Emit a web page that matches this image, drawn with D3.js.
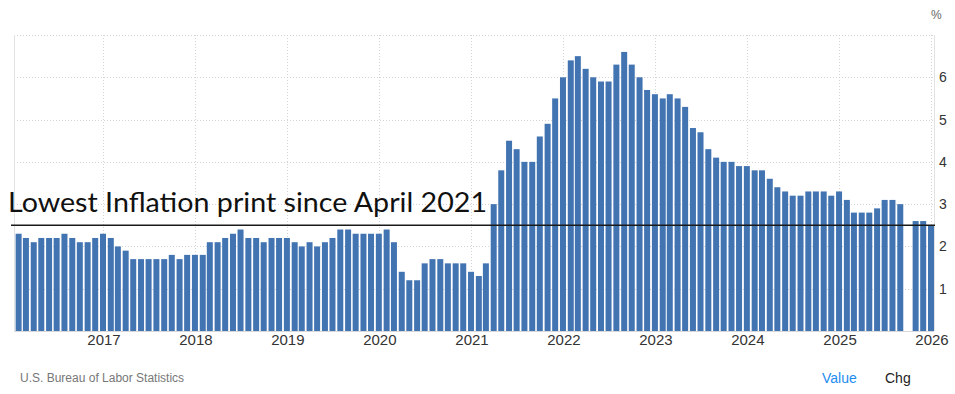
<!DOCTYPE html>
<html>
<head>
<meta charset="utf-8">
<script src="https://cdn.jsdelivr.net/npm/d3@7"></script>
<style>
  body { margin: 0; background: #fff; }
  svg { display: block; }
</style>
</head>
<body>
<script>
// US core CPI, YoY %, monthly from Feb 2016 (Oct 2025 not published)
const startMonth = '2016-02';
const values = [
  2.3, 2.2, 2.1, 2.2, 2.2, 2.2, 2.3, 2.2, 2.1, 2.1, 2.2,           // 2016 Feb-Dec
  2.3, 2.2, 2.0, 1.9, 1.7, 1.7, 1.7, 1.7, 1.7, 1.8, 1.7, 1.8,      // 2017
  1.8, 1.8, 2.1, 2.1, 2.2, 2.3, 2.4, 2.2, 2.2, 2.1, 2.2, 2.2,      // 2018
  2.2, 2.1, 2.0, 2.1, 2.0, 2.1, 2.2, 2.4, 2.4, 2.3, 2.3, 2.3,      // 2019
  2.3, 2.4, 2.1, 1.4, 1.2, 1.2, 1.6, 1.7, 1.7, 1.6, 1.6, 1.6,      // 2020
  1.4, 1.3, 1.6, 3.0, 3.8, 4.5, 4.3, 4.0, 4.0, 4.6, 4.9, 5.5,      // 2021
  6.0, 6.4, 6.5, 6.2, 6.0, 5.9, 5.9, 6.3, 6.6, 6.3, 6.0, 5.7,      // 2022
  5.6, 5.5, 5.6, 5.5, 5.3, 4.8, 4.7, 4.3, 4.1, 4.0, 4.0, 3.9,      // 2023
  3.9, 3.8, 3.8, 3.6, 3.4, 3.3, 3.2, 3.2, 3.3, 3.3, 3.3, 3.2,      // 2024
  3.3, 3.1, 2.8, 2.8, 2.8, 2.9, 3.1, 3.1, 3.0, null, 2.6, 2.6,     // 2025
  2.5                                                              // 2026 Jan
];
const yearTicks = [2017, 2018, 2019, 2020, 2021, 2022, 2023, 2024, 2025, 2026];
const valueTicks = [1, 2, 3, 4, 5, 6];
const markerLevel = 2.5;
const markerLabel = 'Lowest Inflation print since April 2021';
const sourceLabel = 'U.S. Bureau of Labor Statistics';

const width = 955;
const height = 394;
const plot = { left: 14, right: 934, top: 35, bottom: 331 };

const parseMonth = d3.timeParse('%Y-%m');
const months = d3.timeMonth.range(parseMonth(startMonth), d3.timeMonth.offset(parseMonth(startMonth), values.length));
const data = months.map((date, i) => ({ date, value: values[i] }));

const x = d3.scaleTime()
  .domain([new Date(2017, 0, 1), new Date(2026, 0, 1)])
  .range([103, 931]);
const y = d3.scaleLinear()
  .domain([0, 7])
  .range([plot.bottom, plot.top]);

const barWidth = 6;

const svg = d3.select('body')
  .append('svg')
  .attr('width', width)
  .attr('height', height)
  .style('font-family', '"Liberation Sans", Arial, sans-serif');

// grid
const grid = svg.append('g')
  .attr('stroke', '#d4d4d4')
  .attr('stroke-dasharray', '1,2');

grid.selectAll('line.h')
  .data([...valueTicks, 7])
  .join('line')
    .attr('class', 'h')
    .attr('x1', plot.left)
    .attr('x2', plot.right)
    .attr('y1', d => Math.round(y(d)) + 0.5)
    .attr('y2', d => Math.round(y(d)) + 0.5);

grid.selectAll('line.v')
  .data(yearTicks)
  .join('line')
    .attr('class', 'v')
    .attr('x1', d => Math.round(x(new Date(d, 0, 1))) + 0.5)
    .attr('x2', d => Math.round(x(new Date(d, 0, 1))) + 0.5)
    .attr('y1', plot.top)
    .attr('y2', plot.bottom);

// frame lines
svg.append('line')
  .attr('x1', plot.left + 0.5).attr('x2', plot.left + 0.5)
  .attr('y1', plot.top).attr('y2', plot.bottom)
  .attr('stroke', '#e2e2e2');
svg.append('line')
  .attr('x1', plot.right + 0.5).attr('x2', plot.right + 0.5)
  .attr('y1', plot.top).attr('y2', plot.bottom)
  .attr('stroke', '#e2e2e2');

// bars
svg.append('g')
  .attr('fill', '#4374b2')
  .selectAll('rect')
  .data(data.filter(d => d.value != null))
  .join('rect')
    .attr('x', d => x(d.date) - barWidth / 2)
    .attr('width', barWidth)
    .attr('y', d => y(d.value))
    .attr('height', d => y(0) - y(d.value));

// baseline
svg.append('line')
  .attr('x1', plot.left).attr('x2', plot.right)
  .attr('y1', plot.bottom + 0.5).attr('y2', plot.bottom + 0.5)
  .attr('stroke', '#d8d8d8');

// x axis labels
svg.append('g')
  .attr('font-size', 15)
  .attr('fill', '#333')
  .attr('text-anchor', 'middle')
  .selectAll('text')
  .data(yearTicks)
  .join('text')
    .attr('x', d => x(new Date(d, 0, 1)) + 1)
    .attr('y', 345)
    .text(d => d);

// y axis labels
svg.append('g')
  .attr('font-size', 14)
  .attr('fill', '#333')
  .selectAll('text')
  .data(valueTicks)
  .join('text')
    .attr('x', 939)
    .attr('y', d => y(d) + 5)
    .text(d => d);

svg.append('text')
  .attr('x', 931)
  .attr('y', 19)
  .attr('font-size', 12)
  .attr('fill', '#666')
  .text('%');

// annotation line + label
svg.append('line')
  .attr('x1', 11).attr('x2', 935)
  .attr('y1', y(markerLevel)).attr('y2', y(markerLevel))
  .attr('stroke', '#1a1a1a')
  .attr('stroke-width', 1.6);

svg.append('text')
  .attr('x', 8)
  .attr('y', 212)
  .attr('font-family', 'Lato, "Noto Sans", sans-serif')
  .attr('font-size', 27)
  .attr('fill', '#111')
  .attr('textLength', 479)
  .attr('lengthAdjust', 'spacingAndGlyphs')
  .text(markerLabel);

// footer
svg.append('text')
  .attr('x', 20)
  .attr('y', 382)
  .attr('font-size', 12)
  .attr('fill', '#777')
  .text(sourceLabel);

svg.append('text')
  .attr('x', 822)
  .attr('y', 383)
  .attr('font-size', 14)
  .attr('fill', '#1e8cf0')
  .text('Value');

svg.append('text')
  .attr('x', 885)
  .attr('y', 383)
  .attr('font-size', 14)
  .attr('fill', '#222')
  .text('Chg');
</script>
</body>
</html>
